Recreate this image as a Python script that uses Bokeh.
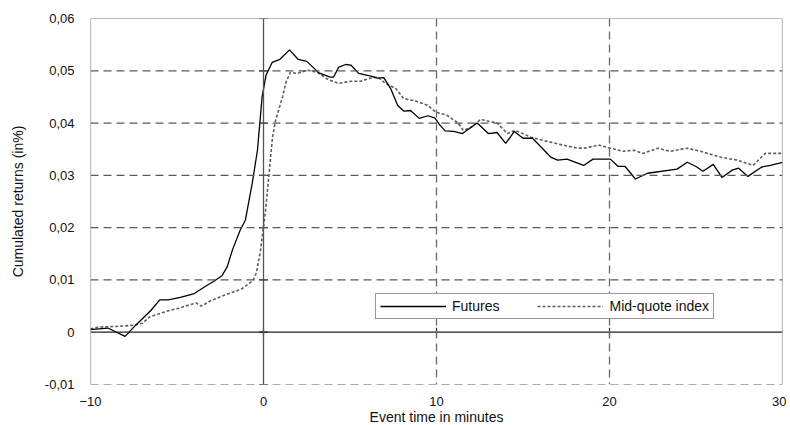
import math
from bokeh.plotting import figure
from bokeh.models import Span, Range1d, FixedTicker, CustomJSTickFormatter, Legend, LegendItem
from bokeh.embed import file_html
from bokeh.resources import INLINE

# ---------------- data ----------------
fut_x = [-10, -9.0, -8.0, -7.4, -6.5, -6.0, -5.5, -4.75, -4.0, -3.35, -2.8, -2.4, -2.1,
         -1.8, -1.35, -1.05, -0.65, -0.35, -0.08, 0.15, 0.5, 0.95, 1.5, 2.0, 2.5, 3.2,
         3.85, 4.05, 4.35, 4.75, 5.05, 5.5, 6.2, 6.6, 6.95, 7.35, 7.75, 8.1, 8.5, 9.0,
         9.5, 9.9, 10.2, 10.5, 11.0, 11.5, 12.35, 13.0, 13.5, 14.0, 14.5, 15.0, 15.55,
         16.6, 17.0, 17.55, 18.5, 19.05, 20.05, 20.5, 20.9, 21.5, 22.2, 23.9, 24.5,
         25.0, 25.4, 26.0, 26.5, 27.1, 27.45, 28.0, 28.8, 29.3, 30.0]
fut_y = [0.0005, 0.0008, -0.0008, 0.0013, 0.0042, 0.0062, 0.0062, 0.0067, 0.0074, 0.0088,
         0.0099, 0.0108, 0.0125, 0.0157, 0.0195, 0.0214, 0.0285, 0.0348, 0.0450, 0.0492,
         0.0516, 0.0522, 0.0540, 0.0522, 0.0518, 0.0496, 0.0488, 0.0488, 0.0507, 0.0512,
         0.0511, 0.0495, 0.0490, 0.0486, 0.0487, 0.0466, 0.0434, 0.0423, 0.0424, 0.0409,
         0.0414, 0.0410, 0.0396, 0.0385, 0.0384, 0.0380, 0.0400, 0.0380, 0.0382, 0.0361,
         0.0384, 0.0371, 0.0371, 0.0335, 0.0329, 0.0331, 0.0319, 0.0331, 0.0331, 0.0317,
         0.0317, 0.0293, 0.0304, 0.0312, 0.0325, 0.0317, 0.0308, 0.0321, 0.0296, 0.0310,
         0.0314, 0.0298, 0.0316, 0.0319, 0.0325]

mid_x = [-10, -9.5, -8.55, -7.6, -7.0, -6.6, -6.25, -5.6, -4.9, -3.9, -3.6, -3.0, -2.0,
         -1.3, -0.6, -0.4, -0.17, 0.12, 0.3, 0.52, 0.7, 1.1, 1.3, 1.55, 1.95, 2.55, 3.1,
         3.75, 4.35, 5.05, 5.6, 6.2, 6.6, 7.05, 7.65, 8.1, 8.8, 9.5, 9.95, 10.6, 11.25,
         11.55, 12.0, 12.55, 13.5, 14.1, 14.55, 15.45, 16.4, 17.3, 18.15, 18.6, 19.35,
         20.05, 20.8, 21.4, 21.95, 22.8, 23.5, 24.5, 25.25, 26.4, 27.4, 28.3, 29.0, 30.0]
mid_y = [0.0006, 0.0010, 0.0011, 0.0013, 0.0017, 0.0029, 0.0033, 0.0040, 0.0046, 0.0056,
         0.0050, 0.0061, 0.0074, 0.0082, 0.0099, 0.0115, 0.0157, 0.0233, 0.0296, 0.0373,
         0.0405, 0.0450, 0.0478, 0.0497, 0.0495, 0.0501, 0.0497, 0.0483, 0.0476, 0.0480,
         0.0480, 0.0486, 0.0488, 0.0476, 0.0466, 0.0447, 0.0442, 0.0434, 0.0421, 0.0415,
         0.0400, 0.0386, 0.0392, 0.0407, 0.0400, 0.0380, 0.0386, 0.0373, 0.0365, 0.0358,
         0.0352, 0.0352, 0.0358, 0.0352, 0.0346, 0.0348, 0.0342, 0.0352, 0.0346, 0.0352,
         0.0346, 0.0335, 0.0329, 0.0319, 0.0342, 0.0342]

x_ticks = [-10, 0, 10, 20, 30]
y_ticks = [-0.01, 0.0, 0.01, 0.02, 0.03, 0.04, 0.05, 0.06]
series_names = ["Futures", "Mid-quote index"]
x_title = "Event time in minutes"
y_title = "Cumulated returns (in%)"

FONT = "Liberation Sans"

p = figure(frame_width=692, frame_height=366, output_backend="svg", toolbar_location=None,
           x_range=Range1d(x_ticks[0], x_ticks[-1]), y_range=Range1d(y_ticks[0], y_ticks[-1]),
           min_border_left=90, min_border_top=18, min_border_right=4, min_border_bottom=10)
p.outline_line_color = None
p.xgrid.visible = False
p.ygrid.visible = False
p.background_fill_color = "white"

# axes (labels only)
for ax in (p.xaxis[0], p.yaxis[0]):
    ax.axis_line_color = None
    ax.major_tick_line_color = None
    ax.minor_tick_line_color = None
    ax.major_label_text_font = FONT
    ax.major_label_text_font_size = "13px"
    ax.major_label_text_color = "#111111"
    ax.axis_label_text_font = FONT
    ax.axis_label_text_font_size = "14px"
    ax.axis_label_text_font_style = "normal"
    ax.axis_label_text_color = "#111111"

p.xaxis.ticker = FixedTicker(ticks=x_ticks)
p.yaxis.ticker = FixedTicker(ticks=y_ticks)
p.yaxis.formatter = CustomJSTickFormatter(
    code="if (Math.abs(tick) < 1e-9) return '0'; return tick.toFixed(2).replace('.', ',');")
p.xaxis.major_label_standoff = 6
p.yaxis.major_label_standoff = 10
p.xaxis.axis_label = x_title
p.yaxis.axis_label = y_title
p.xaxis.axis_label_standoff = 0
p.yaxis.axis_label_standoff = 16

# grid / frame lines
for yv in y_ticks:
    if abs(yv) < 1e-12:
        p.add_layout(Span(location=yv, dimension="width", line_color="#222222", line_width=1.2))
    elif yv == y_ticks[-1]:
        p.add_layout(Span(location=yv, dimension="width", line_color="#808080", line_width=1.2))
    else:
        p.add_layout(Span(location=yv, dimension="width", line_color="#5a5a5a", line_width=1.2,
                          line_dash="8 5"))
for xv in x_ticks:
    if xv in (x_ticks[0], x_ticks[-1]):
        p.add_layout(Span(location=xv, dimension="height", line_color="#808080", line_width=1.2))
    elif xv == 0:
        p.add_layout(Span(location=xv, dimension="height", line_color="#555555", line_width=1.3))
    else:
        p.add_layout(Span(location=xv, dimension="height", line_color="#6a6a6a", line_width=1.3,
                          line_dash="8 5"))

# crossing tick marks on the zero axes
p.scatter(x=[0] * len(y_ticks), y=y_ticks, marker="dash", size=9, line_color="#222222",
          line_width=1.2)
p.scatter(x=x_ticks[1:-1], y=[0] * (len(x_ticks) - 2), marker="dash", angle=math.pi / 2,
          size=9, line_color="#222222", line_width=1.2)

r_mid = p.line(mid_x, mid_y, line_color="#5e5e5e", line_width=1.6, line_dash="3 2")
r_fut = p.line(fut_x, fut_y, line_color="#000000", line_width=1.3)

legend = Legend(items=[LegendItem(label=series_names[0], renderers=[r_fut]),
                       LegendItem(label=series_names[1], renderers=[r_mid])],
                orientation="horizontal", location=(285, 65))
legend.label_text_font = FONT
legend.label_text_font_size = "14px"
legend.label_text_color = "#111111"
legend.glyph_width = 66
legend.glyph_height = 12
legend.label_height = 12
legend.label_standoff = 6
legend.spacing = 38
legend.padding = 4
legend.margin = 0
legend.border_line_color = "#333333"
legend.border_line_width = 1
legend.background_fill_alpha = 1.0
p.add_layout(legend, "center")

open("out.html", "w").write(file_html(p, INLINE))
